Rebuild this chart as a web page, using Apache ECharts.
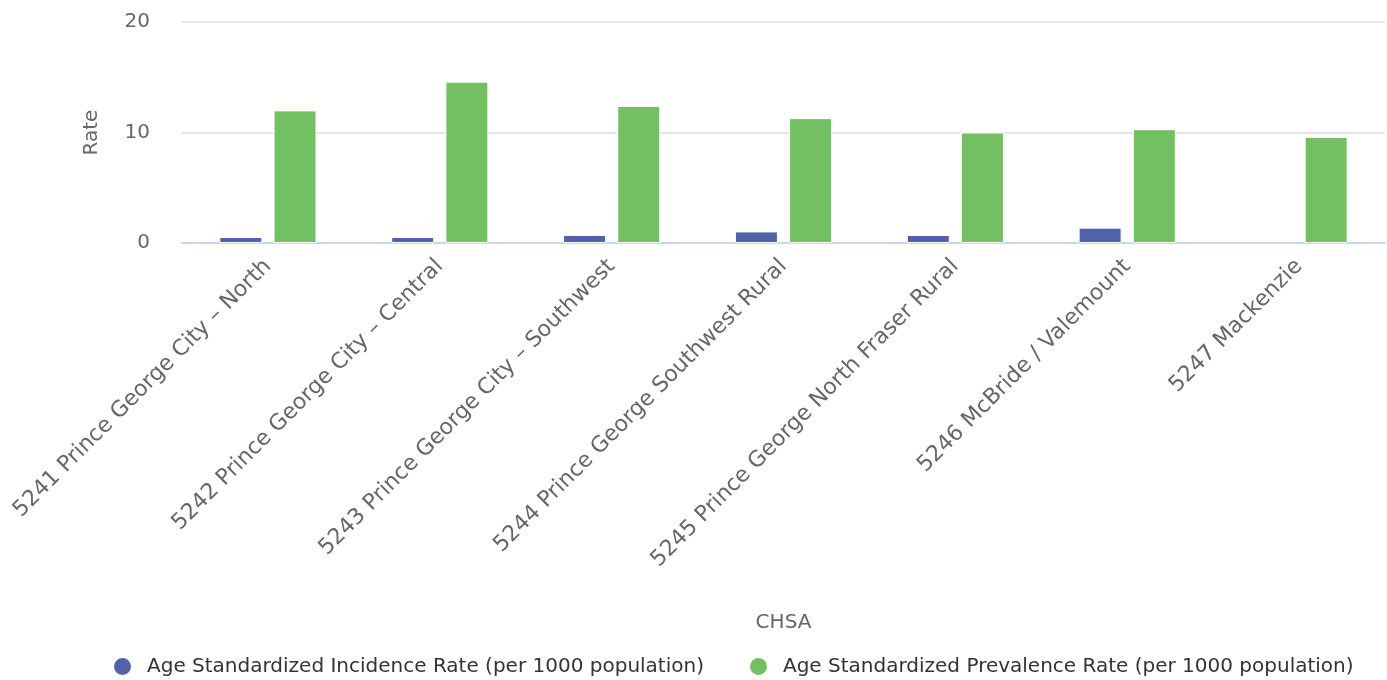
<!DOCTYPE html>
<html>
<head>
<meta charset="utf-8">
<script src="https://cdn.jsdelivr.net/npm/echarts@6/dist/echarts.min.js"></script>
<style>html,body{margin:0;padding:0;background:#fff}#c{width:1387px;height:680px}</style>
</head>
<body>
<div id="c"></div>
<script>
const categories = [
  "5241 Prince George City – North",
  "5242 Prince George City – Central",
  "5243 Prince George City – Southwest",
  "5244 Prince George Southwest Rural",
  "5245 Prince George North Fraser Rural",
  "5246 McBride / Valemount",
  "5247 Mackenzie"
];
const incidence = [0.55, 0.55, 0.73, 1.05, 0.73, 1.39, null];
const prevalence = [12.0, 14.6, 12.4, 11.3, 10.0, 10.3, 9.6];
const seriesNames = [
  "Age Standardized Incidence Rate (per 1000 population)",
  "Age Standardized Prevalence Rate (per 1000 population)"
];
const yTicks = { min: 0, max: 20, interval: 10 };

const FONT = "DejaVu Sans";
const chart = echarts.init(document.getElementById('c'));
chart.setOption({
  animation: false,
  textStyle: { fontFamily: FONT },
  grid: { left: 182, right: 2, top: 22, bottom: 437 },
  legend: {
    bottom: -2,
    left: 107,
    itemGap: 44,
    icon: 'circle',
    itemWidth: 19,
    itemHeight: 19,
    textStyle: { fontFamily: FONT, fontSize: 20, color: '#333', padding: [0, 0, 0, 10] },
    data: seriesNames
  },
  xAxis: {
    type: 'category',
    data: categories,
    name: 'CHSA',
    nameLocation: 'middle',
    nameGap: 370,
    nameTextStyle: { fontSize: 20, color: '#666' },
    axisLine: { lineStyle: { color: '#ccd6eb', width: 2 } },
    axisTick: { show: false },
    axisLabel: { rotate: 45, interval: 0, fontSize: 22, color: '#666', margin: 20 }
  },
  yAxis: {
    type: 'value',
    min: yTicks.min, max: yTicks.max, interval: yTicks.interval,
    name: 'Rate',
    nameLocation: 'middle',
    nameGap: 80,
    nameTextStyle: { fontSize: 20, color: '#666' },
    axisLabel: { fontSize: 20, color: '#666', margin: 32 },
    splitLine: { lineStyle: { color: '#e6e6e6', width: 2 } },
    axisLine: { show: false },
    axisTick: { show: false }
  },
  series: [
    {
      name: seriesNames[0], type: 'bar', data: incidence,
      barWidth: 43, barGap: '26%',
      itemStyle: { color: '#5262a8', borderColor: '#fff', borderWidth: 1 }
    },
    {
      name: seriesNames[1], type: 'bar', data: prevalence,
      barWidth: 43,
      itemStyle: { color: '#73c063', borderColor: '#fff', borderWidth: 1 }
    }
  ]
});
</script>
</body>
</html>
